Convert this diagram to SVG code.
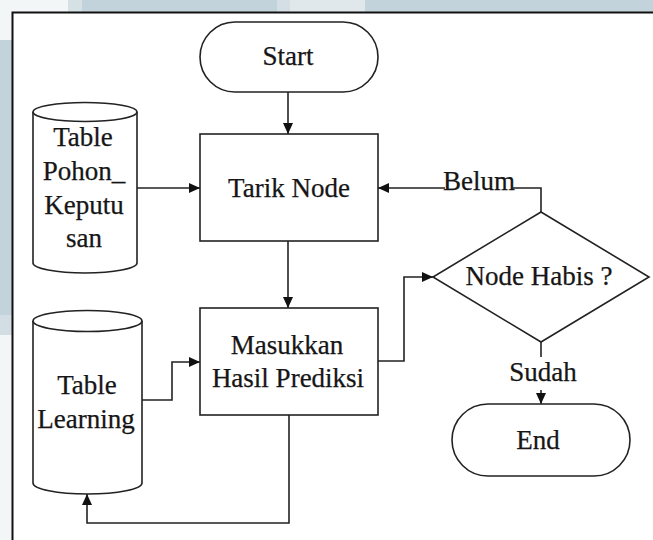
<svg xmlns="http://www.w3.org/2000/svg" width="653" height="540" viewBox="0 0 653 540">
  <defs>
    <marker id="arrow" markerUnits="userSpaceOnUse" markerWidth="12" markerHeight="10" refX="11" refY="5" orient="auto">
      <path d="M0,0 L11,5 L0,10 Z" fill="#111"/>
    </marker>
    <style>
      .shape { fill: #fff; stroke: #222; stroke-width: 1.6; }
      .edge { fill: none; stroke: #222; stroke-width: 1.6; }
      .lbl { font-family: "Liberation Serif", "Times New Roman", serif; font-size: 27px; fill: #161616; stroke: #161616; stroke-width: 0.25; text-anchor: middle; }
      .bg { fill: #c3d3db; }
    </style>
  </defs>

  <!-- page background around the frame -->
  <rect x="0" y="0" width="653" height="540" fill="#f3f6f7"/>
  <rect x="68" y="0" width="14" height="12" fill="#d6e1e6"/>
  <rect class="bg" x="82" y="0" width="195" height="12"/>
  <rect x="277" y="0" width="13" height="12" fill="#d3dfe4"/>
  <rect x="290" y="0" width="75" height="12" fill="#e0e8ec"/>
  <rect class="bg" x="365" y="0" width="288" height="12"/>
  <rect class="bg" x="0" y="40" width="12" height="275"/>
  <rect x="0" y="315" width="12" height="20" fill="#d2dee3"/>

  <!-- frame -->
  <rect x="12" y="12" width="641" height="528" fill="#fff"/>
  <path d="M12.5,540 V12.5 H653" fill="none" stroke="#111" stroke-width="2"/>

  <!-- connectors -->
  <g id="connectors">
    <path class="edge" d="M288,92 V134" marker-end="url(#arrow)"/>
    <path class="edge" d="M137,188 H200" marker-end="url(#arrow)"/>
    <path class="edge" d="M288,241 V308" marker-end="url(#arrow)"/>
    <path class="edge" d="M142,400 H172 V362 H200" marker-end="url(#arrow)"/>
    <path class="edge" d="M378,361 H404 V277 H433" marker-end="url(#arrow)"/>
    <path class="edge" d="M541,212 V188 H378" marker-end="url(#arrow)"/>
    <path class="edge" d="M541,342 V404" marker-end="url(#arrow)"/>
    <path class="edge" d="M289,415 V523 H87 V494" marker-end="url(#arrow)"/>
    <!-- branch labels -->
    <rect x="445" y="176" width="68" height="15" fill="#fff"/>
    <text class="lbl" x="479" y="190">Belum</text>
    <rect x="509" y="357" width="66" height="33" fill="#fff"/>
    <text class="lbl" x="543" y="381">Sudah</text>
  </g>

  <g id="start">
    <rect class="shape" x="200" y="22" width="178" height="70" rx="35" ry="35"/>
    <text class="lbl" x="288" y="65">Start</text>
  </g>

  <g id="table-pohon">
    <path class="shape" d="M33,112 V263 A52,10 0 0 0 137,263 V112"/>
    <ellipse class="shape" cx="85" cy="112" rx="52" ry="9.5"/>
    <text class="lbl" x="83" y="146">Table</text>
    <text class="lbl" x="84" y="180">Pohon_</text>
    <text class="lbl" x="84" y="214">Keputu</text>
    <text class="lbl" x="84" y="247">san</text>
  </g>

  <g id="tarik-node">
    <rect class="shape" x="200" y="134" width="178" height="107"/>
    <text class="lbl" x="289" y="197">Tarik Node</text>
  </g>

  <g id="table-learning">
    <path class="shape" d="M33,321 V483 A54.5,11 0 0 0 142,483 V321"/>
    <ellipse class="shape" cx="87.5" cy="321" rx="54.5" ry="10.5"/>
    <text class="lbl" x="87" y="394">Table</text>
    <text class="lbl" x="86" y="428">Learning</text>
  </g>

  <g id="masukkan">
    <rect class="shape" x="200" y="308" width="178" height="107"/>
    <text class="lbl" x="287" y="354">Masukkan</text>
    <text class="lbl" x="288" y="387">Hasil Prediksi</text>
  </g>

  <g id="node-habis">
    <polygon class="shape" points="541,212 649,277 541,342 433,277"/>
    <text class="lbl" x="539" y="285">Node Habis ?</text>
  </g>

  <g id="end">
    <rect class="shape" x="452" y="404" width="178" height="72" rx="36" ry="36"/>
    <text class="lbl" x="538" y="449">End</text>
  </g>
</svg>
